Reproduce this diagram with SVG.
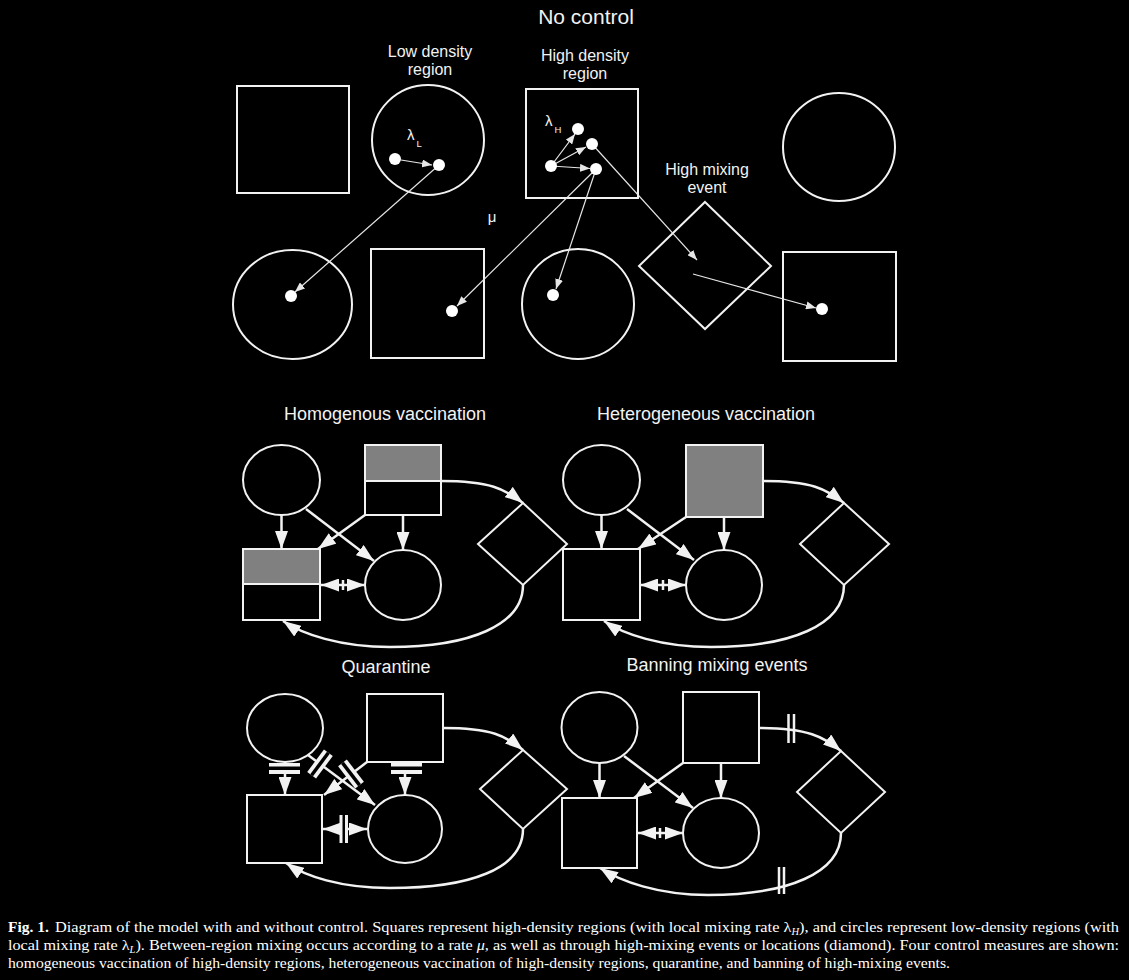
<svg xmlns="http://www.w3.org/2000/svg" width="1129" height="980" viewBox="0 0 1129 980">
<defs>
<style>
.sh{fill:none;stroke:#f2f2f2;stroke-width:2}
.grey{fill:#808080}
.dot{fill:#ffffff}
.thin{fill:none;stroke:#e6e6e6;stroke-width:1.2;marker-end:url(#sa)}
.big{fill:none;stroke:#f2f2f2;stroke-width:2.5;marker-end:url(#ba)}
.tick{stroke:#f2f2f2;stroke-width:2.5}
.wb{fill:#f2f2f2}
.kb{fill:#000000}
.t{font-family:"Liberation Sans",Arial,sans-serif;fill:#f2f2f2;text-anchor:middle}
.ts{font-family:"Liberation Sans",Arial,sans-serif;fill:#f2f2f2}
.cap{font-family:"Liberation Serif","Times New Roman",serif;fill:#ffffff;font-size:15.5px}
</style>
<marker id="sa" viewBox="0 0 10 8" refX="10" refY="4" markerWidth="10" markerHeight="8" markerUnits="userSpaceOnUse" orient="auto"><path d="M0,0 L10,4 L0,8 Z" fill="#e6e6e6"/></marker>
<marker id="ba" viewBox="0 0 18 13" refX="18" refY="6.5" markerWidth="18" markerHeight="13" markerUnits="userSpaceOnUse" orient="auto"><path d="M0,0 L18,6.5 L0,13 Z" fill="#f2f2f2"/></marker>
</defs>
<rect width="1129" height="980" fill="#000000"/>

<!-- Titles -->
<g id="titles">
<text class="t" x="586" y="24" font-size="21">No control</text>
<text class="t" x="430" y="57" font-size="16">Low density</text>
<text class="t" x="430" y="75" font-size="16">region</text>
<text class="t" x="585" y="61" font-size="16">High density</text>
<text class="t" x="585" y="79" font-size="16">region</text>
<text class="t" x="707" y="175" font-size="16">High mixing</text>
<text class="t" x="707" y="193" font-size="16">event</text>
<text class="t" x="492" y="222" font-size="15">μ</text>
<text class="t" x="385" y="420" font-size="18">Homogenous vaccination</text>
<text class="t" x="706" y="420" font-size="18">Heterogeneous vaccination</text>
<text class="t" x="386" y="673" font-size="18">Quarantine</text>
<text class="t" x="717" y="671" font-size="18">Banning mixing events</text>
</g>

<!-- No control nodes -->
<g id="nc-square1"><rect class="sh" x="237" y="86" width="112" height="107"/></g>
<g id="nc-low-density"><ellipse class="sh" cx="428" cy="140" rx="56" ry="55"/>
<text class="ts" x="407" y="140" font-size="15">λ</text><text class="ts" x="416.5" y="146.5" font-size="9.5">L</text></g>
<g id="nc-high-density"><rect class="sh" x="526" y="89" width="112" height="109"/>
<text class="ts" x="545" y="126" font-size="15">λ</text><text class="ts" x="554.5" y="132.5" font-size="9.5">H</text></g>
<g id="nc-circle2"><ellipse class="sh" cx="839" cy="147" rx="56" ry="54"/></g>
<g id="nc-ellipse-b1"><ellipse class="sh" cx="292.5" cy="304.5" rx="59.5" ry="54.5"/></g>
<g id="nc-square-b2"><rect class="sh" x="371" y="249" width="113" height="109"/></g>
<g id="nc-circle-b3"><ellipse class="sh" cx="578" cy="304" rx="56" ry="55"/></g>
<g id="nc-mixing-event"><polygon class="sh" points="705,202 771,266 705,329 639,266"/></g>
<g id="nc-square-b4"><rect class="sh" x="783" y="252" width="113" height="109"/></g>

<!-- Homogenous vaccination nodes -->
<g id="hv-circle"><ellipse class="sh" cx="281.5" cy="480" rx="38.5" ry="35"/></g>
<g id="hv-square-top"><rect class="grey" x="365" y="445" width="76" height="36"/><rect class="sh" x="365" y="445" width="76" height="70"/><line class="sh" x1="365" y1="481" x2="441" y2="481"/></g>
<g id="hv-square-bottom"><rect class="grey" x="243" y="549" width="77" height="35"/><rect class="sh" x="243" y="549" width="77" height="71"/><line class="sh" x1="243" y1="584" x2="320" y2="584"/></g>
<g id="hv-ellipse"><ellipse class="sh" cx="403" cy="585" rx="38" ry="35"/></g>
<g id="hv-diamond"><polygon class="sh" points="523,503 567,544 523,585 478,544"/></g>

<!-- Heterogeneous vaccination nodes -->
<g id="tv-circle"><ellipse class="sh" cx="601.5" cy="480" rx="38.5" ry="35"/></g>
<g id="tv-square-top"><rect class="grey" x="686" y="445" width="77" height="72"/><rect class="sh" x="686" y="445" width="77" height="72"/></g>
<g id="tv-square-bottom"><rect class="sh" x="563" y="549" width="77" height="71"/></g>
<g id="tv-ellipse"><ellipse class="sh" cx="724" cy="585" rx="38" ry="35"/></g>
<g id="tv-diamond"><polygon class="sh" points="844,503 889,544 844,585 800,544"/></g>

<!-- Quarantine nodes -->
<g id="q-circle"><ellipse class="sh" cx="285" cy="728" rx="38" ry="34"/></g>
<g id="q-square-top"><rect class="sh" x="367" y="694" width="76" height="68"/></g>
<g id="q-square-bottom"><rect class="sh" x="247" y="795" width="75" height="68"/></g>
<g id="q-ellipse"><ellipse class="sh" cx="405" cy="829" rx="37" ry="34"/></g>
<g id="q-diamond"><polygon class="sh" points="523,750 567,789 523,829 480,789"/></g>

<!-- Banning nodes -->
<g id="b-circle"><ellipse class="sh" cx="599.5" cy="727.5" rx="38" ry="35.5"/></g>
<g id="b-square-top"><rect class="sh" x="683" y="692" width="76" height="71"/></g>
<g id="b-square-bottom"><rect class="sh" x="562" y="798" width="75" height="70"/></g>
<g id="b-ellipse"><ellipse class="sh" cx="721" cy="833" rx="38" ry="35"/></g>
<g id="b-diamond"><polygon class="sh" points="841,751 885,792 841,833 797,792"/></g>

<!-- Connectors -->
<g id="connectors">
<!-- no control -->
<path class="thin" d="M401,160 L432,165"/>
<path class="thin" d="M551,166 L575,134"/>
<path class="thin" d="M551,166 L586,147"/>
<path class="thin" d="M551,166 L590,168.5"/>
<path class="thin" d="M439,165 L295,292"/>
<path class="thin" d="M596,169 L457,306"/>
<path class="thin" d="M596,169 L556,289"/>
<path class="thin" d="M592,144 L697,260"/>
<path class="thin" d="M693,274 L816,308"/>

<!-- homogenous -->
<path class="big" d="M281.5,515 L281.5,549"/>
<path class="big" d="M306,509 L374,561"/>
<path class="big" d="M365,515 L318,549"/>
<path class="big" d="M403,515 L403,550"/>
<path class="big" d="M343,585 L321,585"/>
<path class="big" d="M343,585 L365,585"/>
<line class="tick" x1="343" y1="580" x2="343" y2="590"/>
<path class="big" d="M441,481 C490,481 505,489 523,503"/>
<path class="big" d="M523,585 C523,625 470,647 390,647 C340,647 302,634 283,621"/>

<!-- heterogeneous -->
<path class="big" d="M601.5,515 L601.5,549"/>
<path class="big" d="M627,509 L694,560"/>
<path class="big" d="M686,517 L638,549"/>
<path class="big" d="M724,517 L724,550"/>
<path class="big" d="M663,585 L640,585"/>
<path class="big" d="M663,585 L686,585"/>
<line class="tick" x1="663" y1="580" x2="663" y2="590"/>
<path class="big" d="M763,481 C812,481 826,489 844,503"/>
<path class="big" d="M844,585 C844,625 791,647 711,647 C661,647 623,634 604,621"/>

<!-- quarantine -->
<path class="big" d="M285,762 L285,795"/>
<path class="big" d="M308,755 L375,805"/>
<path class="big" d="M367,762 L324,795"/>
<path class="big" d="M405,762 L405,795"/>
<path class="big" d="M344,829 L323,829"/>
<path class="big" d="M344,829 L367,829"/>
<path class="big" d="M443,728 C492,728 506,736 523,750"/>
<path class="big" d="M523,829 C523,869 470,888 390,888 C340,888 305,876 286,863"/>
<g id="q-barriers">
<rect class="wb" x="269" y="763" width="31" height="11"/><rect class="kb" x="269" y="766.5" width="31" height="3.5"/>
<rect class="wb" x="391" y="763" width="31" height="11"/><rect class="kb" x="391" y="766.5" width="31" height="3.5"/>
<g transform="translate(320,764) rotate(36.7)"><rect class="wb" x="-5.5" y="-14" width="11" height="28"/><rect class="kb" x="-1.75" y="-14" width="3.5" height="28"/></g>
<g transform="translate(351,774) rotate(142.5)"><rect class="wb" x="-5.5" y="-14" width="11" height="28"/><rect class="kb" x="-1.75" y="-14" width="3.5" height="28"/></g>
<rect class="wb" x="339.5" y="815" width="8.5" height="28"/><rect class="kb" x="342.5" y="815" width="2.5" height="28"/>
</g>

<!-- banning -->
<path class="big" d="M599.5,763 L599.5,798"/>
<path class="big" d="M624,756 L693,808"/>
<path class="big" d="M683,763 L634,798"/>
<path class="big" d="M721,763 L721,798"/>
<path class="big" d="M660,833 L638,833"/>
<path class="big" d="M660,833 L683,833"/>
<line class="tick" x1="660" y1="828" x2="660" y2="838"/>
<path class="big" d="M759,728 C808,728 824,737 841,751"/>
<path class="big" d="M841,833 C841,873 788,895 708,895 C658,895 620,881 600,868"/>
<g id="b-barriers">
<line class="tick" x1="788.5" y1="714" x2="788.5" y2="743"/>
<line class="tick" x1="794" y1="714" x2="794" y2="743"/>
<line class="tick" x1="779" y1="867" x2="779" y2="894"/>
<line class="tick" x1="784" y1="867" x2="784" y2="894"/>
</g>
</g>

<!-- dots -->
<g id="dots">
<circle class="dot" cx="395" cy="159" r="6"/>
<circle class="dot" cx="439" cy="165" r="6"/>
<circle class="dot" cx="551" cy="166" r="6"/>
<circle class="dot" cx="578" cy="129" r="6"/>
<circle class="dot" cx="592" cy="144" r="6"/>
<circle class="dot" cx="596" cy="169" r="6"/>
<circle class="dot" cx="291" cy="296" r="6"/>
<circle class="dot" cx="452" cy="311" r="6"/>
<circle class="dot" cx="553" cy="295" r="6"/>
<circle class="dot" cx="822" cy="309" r="6"/>
</g>

<!-- caption -->
<g id="caption">
<text class="cap" x="8" y="932" font-weight="bold">Fig. 1.</text>
<text class="cap" x="55" y="932" textLength="1064" lengthAdjust="spacingAndGlyphs">Diagram of the model with and without control. Squares represent high-density regions (with local mixing rate λ<tspan font-style="italic" font-size="10" dy="3">H</tspan><tspan dy="-3">), and circles represent low-density regions (with</tspan></text>
<text class="cap" x="8" y="950" textLength="1111" lengthAdjust="spacingAndGlyphs">local mixing rate λ<tspan font-style="italic" font-size="10" dy="3">L</tspan><tspan dy="-3">). Between-region mixing occurs according to a rate </tspan><tspan font-style="italic">μ</tspan>, as well as through high-mixing events or locations (diamond). Four control measures are shown:</text>
<text class="cap" x="8" y="968" textLength="942" lengthAdjust="spacingAndGlyphs">homogeneous vaccination of high-density regions, heterogeneous vaccination of high-density regions, quarantine, and banning of high-mixing events.</text>
</g>
</svg>
